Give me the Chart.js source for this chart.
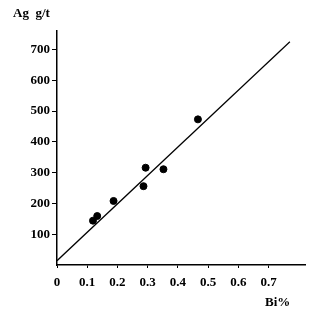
<!DOCTYPE html>
<html>
<head>
<meta charset="utf-8">
<script src="https://cdn.jsdelivr.net/npm/chart.js@4"></script>
<style>
  html, body { margin: 0; padding: 0; background: #fff; }
</style>
</head>
<body>
<canvas id="chart" width="331" height="315"></canvas>
<script>
// Bi % vs Ag g/t samples
const biPct = [0.119, 0.133, 0.187, 0.286, 0.293, 0.352, 0.466];
const agGt = [144, 159, 208, 256, 316, 311, 473];

// regression line ends
const fitX = [0, 0.77];
const fitY = [14, 725];

const xTicks = [0, 0.1, 0.2, 0.3, 0.4, 0.5, 0.6, 0.7];
const yTicks = [100, 200, 300, 400, 500, 600, 700];

const tickFont = { family: "Liberation Serif", size: 13, weight: "bold" };

// draws the two axis captions
const captions = {
  id: "captions",
  afterDraw(chart) {
    const c = chart.ctx;
    c.save();
    c.fillStyle = "#000";
    c.font = "bold 13px 'Liberation Serif'";
    c.textBaseline = "middle";
    c.fillText("Ag  g/t", 13, 14);
    c.fillText("Bi%", 265, 303);
    c.restore();
  },
};

var ctx = document.getElementById("chart").getContext("2d");
var myChart = new Chart(ctx, {
  type: "scatter",
  data: {
    datasets: [
      {
        data: biPct.map((x, i) => ({ x: x, y: agGt[i] })),
        backgroundColor: "#000",
        borderColor: "#000",
        pointRadius: 3.5,
        pointHoverRadius: 3.5,
      },
      {
        type: "line",
        data: fitX.map((x, i) => ({ x: x, y: fitY[i] })),
        borderColor: "#000",
        borderWidth: 1.2,
        pointRadius: 0,
        fill: false,
      },
    ],
  },
  options: {
    responsive: false,
    animation: false,
    layout: {
      padding: { top: 31, left: 0, right: 26, bottom: 0 },
    },
    plugins: {
      legend: { display: false },
      tooltip: { enabled: false },
    },
    scales: {
      x: {
        type: "linear",
        min: 0,
        max: 0.82,
        afterBuildTicks: (s) => {
          s.ticks = xTicks.map((v) => ({ value: v }));
        },
        afterFit: (s) => {
          s.height = 50;
        },
        grid: {
          drawOnChartArea: false,
          drawTicks: true,
          tickLength: 3,
          color: "#000",
        },
        border: { display: true, color: "#000", width: 1.5 },
        ticks: {
          color: "#000",
          font: tickFont,
          padding: 7,
          maxRotation: 0,
          autoSkip: false,
          callback: (v) => (v === 0 ? "0" : v.toFixed(1)),
        },
      },
      y: {
        type: "linear",
        min: 0,
        max: 760,
        afterBuildTicks: (s) => {
          s.ticks = yTicks.map((v) => ({ value: v }));
        },
        afterFit: (s) => {
          s.width = 57;
        },
        grid: {
          drawOnChartArea: false,
          drawTicks: true,
          tickLength: 5,
          color: "#000",
        },
        border: { display: true, color: "#000", width: 1.5 },
        ticks: {
          color: "#000",
          font: tickFont,
          padding: 2,
          autoSkip: false,
        },
      },
    },
  },
  plugins: [captions],
});
</script>
</body>
</html>
